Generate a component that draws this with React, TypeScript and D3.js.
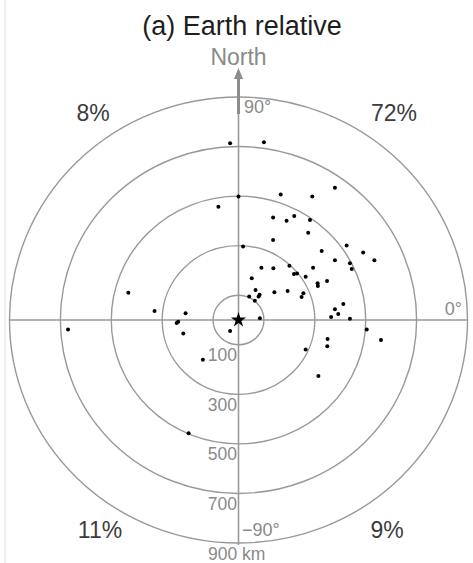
import React from 'react';
import * as d3 from 'd3';

// distance rings (km) and their labels
const rings = [100, 300, 500, 700, 900];
const ringLabels = ['100', '300', '500', '700', '900 km'];

// quadrant shares
const quadrantLabels = ['72%', '8%', '11%', '9%'];

// event offsets from the origin, km (east +, north +)
const eastKm = [
  -33, 100, 0, -79, 166, 290, 379, 136, 189, 219, 281, 274, 136, 18, 425, 327,
  490, 379, 534, 438, 445, 90, 137, 200, 293, 218, 230, 264, 52, 348, 311, 312,
  67, 42, 83, 79, 64, 141, 193, 255, 248, 412, 379, 392, 364, 438, 84, 504,
  560, 350, 349, 264, 314, -433, -330, -208, -243, -237, -217, -33, -140, -670, -196,
];
const northKm = [
  713, 717, 498, 457, 507, 498, 534, 414, 401, 420, 404, 352, 323, 297, 301, 278,
  272, 241, 241, 229, 206, 211, 209, 219, 211, 186, 188, 175, 168, 157, 148, 137,
  121, 95, 102, 95, 78, 112, 117, 108, 93, 65, 43, 24, 12, 5, 7, -38,
  -81, -77, -106, -119, -226, 110, 36, 27, -12, -7, -54, -44, -160, -38, -457,
];

const W = 473;
const H = 563;
const cx = 238.5;
const cy = 320;

const x = d3.scaleLinear().domain([-900, 900]).range([cx - 229, cx + 229]);
const y = d3.scaleLinear().domain([-900, 900]).range([cy + 223, cy - 223]);

const grey = '#999';
const labelGrey = '#8a8a8a';
const font = '"Liberation Sans", Arial, sans-serif';

const star = d3.symbol().type(d3.symbolStar).size(70)();

export default function App() {
  const rOuter = 900;
  return (
    <svg
      width={W}
      height={H}
      style={{ position: 'absolute', left: 0, top: 0, background: '#fff' }}
      fontFamily={font}
    >
      <line x1={5} x2={5} y1={0} y2={H} stroke="#e2e2e2" strokeWidth={1} />

      <text x={242} y={35} textAnchor="middle" fontSize={27} fill="#1e1e1e">
        (a) Earth relative
      </text>
      <text x={238.5} y={65} textAnchor="middle" fontSize={23} fill={labelGrey}>
        North
      </text>

      {rings.map((r) => (
        <ellipse
          key={r}
          cx={cx}
          cy={cy}
          rx={x(r) - x(0)}
          ry={y(0) - y(r)}
          fill="none"
          stroke={grey}
          strokeWidth={1.4}
        />
      ))}

      {/* axes */}
      <line x1={x(-rOuter)} x2={x(rOuter)} y1={cy} y2={cy} stroke={grey} strokeWidth={1.4} />
      <line x1={cx} x2={cx} y1={113} y2={y(-rOuter) + 2} stroke={grey} strokeWidth={1.6} />
      <line x1={cx} x2={cx} y1={114} y2={76} stroke="#8c8c8c" strokeWidth={3} />
      <path d={`M${cx},68 L${cx - 4.5},79 L${cx + 4.5},79 Z`} fill="#8c8c8c" />

      {/* angle labels */}
      <text x={244} y={113} fontSize={18} fill={labelGrey}>90°</text>
      <text x={462} y={315} textAnchor="end" fontSize={18} fill={labelGrey}>0°</text>
      <text x={242} y={536} fontSize={18} fill={labelGrey}>−90°</text>

      {/* ring labels */}
      {rings.map((r, i) => (
        <text
          key={r}
          x={i === rings.length - 1 ? 208 : 237}
          y={y(-r) + 16.5}
          textAnchor={i === rings.length - 1 ? 'start' : 'end'}
          fontSize={17.5}
          fill={labelGrey}
        >
          {ringLabels[i]}
        </text>
      ))}

      {/* quadrant percentages */}
      <text x={394} y={120.5} textAnchor="middle" fontSize={23} fill="#3c3c3c">{quadrantLabels[0]}</text>
      <text x={93} y={120.5} textAnchor="middle" fontSize={23} fill="#3c3c3c">{quadrantLabels[1]}</text>
      <text x={100} y={538} textAnchor="middle" fontSize={23} fill="#3c3c3c">{quadrantLabels[2]}</text>
      <text x={387} y={538} textAnchor="middle" fontSize={23} fill="#3c3c3c">{quadrantLabels[3]}</text>

      {eastKm.map((e, i) => (
        <circle key={i} cx={x(e)} cy={y(northKm[i])} r={2} fill="#000" />
      ))}

      <path d={star ?? ''} transform={`translate(${cx},${cy})`} fill="#000" />
    </svg>
  );
}
